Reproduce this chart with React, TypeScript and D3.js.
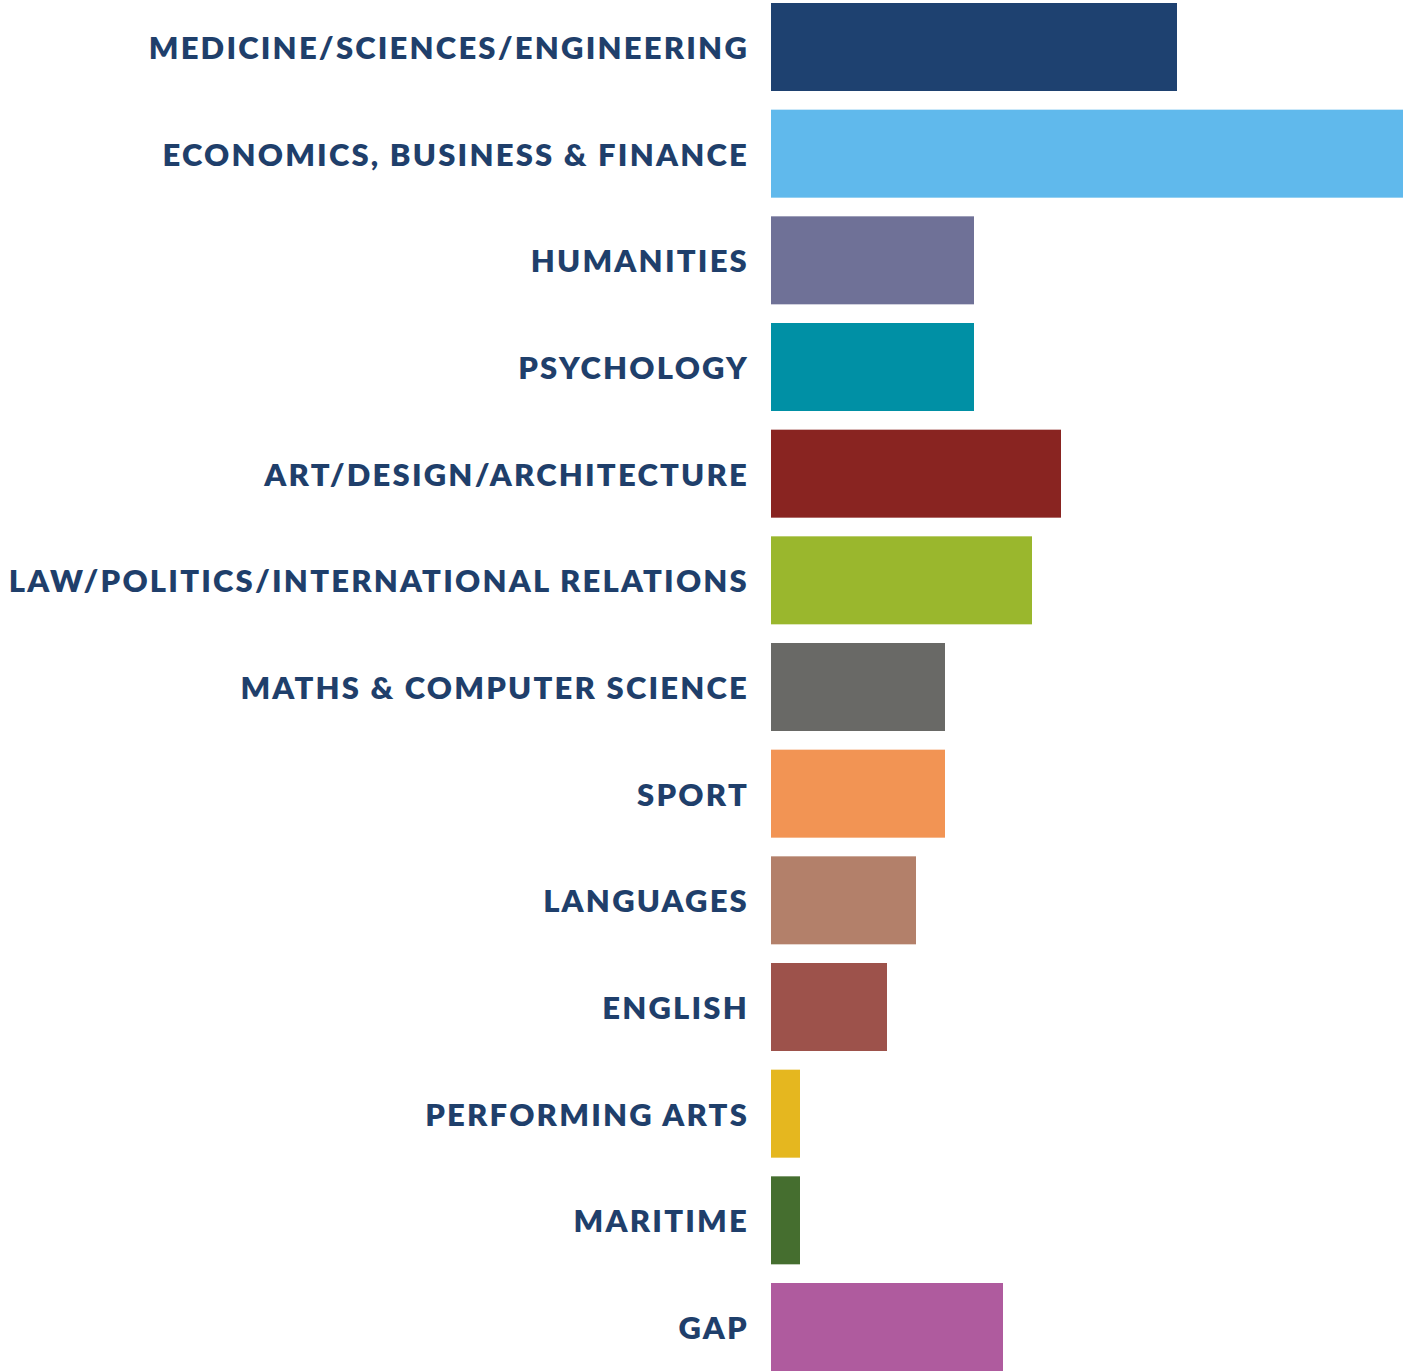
import React from "react";
import * as d3 from "d3";

const categories = [
  "MEDICINE/SCIENCES/ENGINEERING",
  "ECONOMICS, BUSINESS & FINANCE",
  "HUMANITIES",
  "PSYCHOLOGY",
  "ART/DESIGN/ARCHITECTURE",
  "LAW/POLITICS/INTERNATIONAL RELATIONS",
  "MATHS & COMPUTER SCIENCE",
  "SPORT",
  "LANGUAGES",
  "ENGLISH",
  "PERFORMING ARTS",
  "MARITIME",
  "GAP",
];
const values = [14, 22, 7, 7, 10, 9, 6, 6, 5, 4, 1, 1, 8];
const colors = [
  "#1e4170", "#60b9ec", "#6f7197", "#0090a5", "#892421", "#9ab72d", "#696966",
  "#f29454", "#b3806a", "#9d524b", "#e5b71f", "#456e2f", "#af5b9e",
];

const W = 1403;
const H = 1371;

export default function App() {
  const x = d3.scaleLinear().domain([0, 22]).range([771, 771 + 29 * 22]);
  const yb = d3.scaleBand<string>().domain(categories).range([3, 1371]).paddingInner(0.175);
  return (
    <svg width={W} height={H} style={{ position: "absolute", left: 0, top: 0 }}>
      {categories.map((c, i) => (
        <g key={c}>
          <rect x={x(0)} y={yb(c)} width={x(values[i]) - x(0)} height={yb.bandwidth()} fill={colors[i]} />
          <text
            x={749}
            y={(yb(c) as number) + yb.bandwidth() / 2 + 12}
            textAnchor="end"
            fill="#1f3f6b"
            fontFamily="Lato, sans-serif"
            fontWeight={800}
            fontSize={31}
            letterSpacing={2.2}
          >
            {c}
          </text>
        </g>
      ))}
    </svg>
  );
}
